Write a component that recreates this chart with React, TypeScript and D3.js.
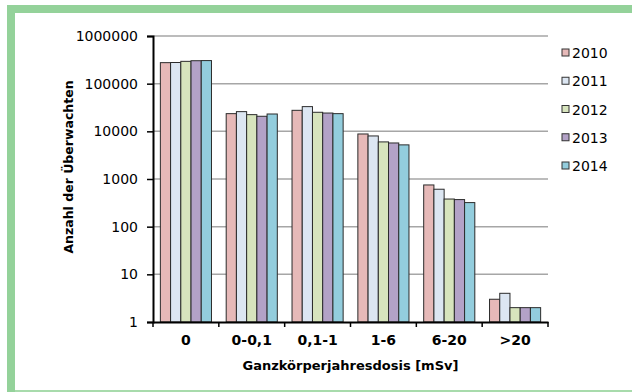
import React, { useEffect, useRef } from "react";
import * as d3 from "d3";

const categories = ["0", "0-0,1", "0,1-1", "1-6", "6-20", ">20"];
const years = ["2010", "2011", "2012", "2013", "2014"];
const colors = ["#E6B9B8", "#DCE6F2", "#D7E4BD", "#B3A2C7", "#93CDDD"];

const values2010 = [276000, 23500, 27600, 8800, 750, 3];
const values2011 = [278000, 25900, 33000, 8000, 610, 4];
const values2012 = [294000, 22400, 25100, 6000, 380, 2];
const values2013 = [303000, 20700, 24200, 5700, 370, 2];
const values2014 = [305000, 23100, 23500, 5200, 320, 2];

const yTicks = [1, 10, 100, 1000, 10000, 100000, 1000000];

const App = () => {
	const ref = useRef<SVGSVGElement>(null);

	useEffect(() => {
		const series = [values2010, values2011, values2012, values2013, values2014];
		const width = 632;
		const height = 392;
		const margin = { top: 36, right: 84, bottom: 70, left: 153 };
		const font = "'DejaVu Sans', sans-serif";

		const svg = d3.select(ref.current);
		svg.selectAll("*").remove();

		// green frame
		svg.append("rect").attr("x", 7).attr("y", 5).attr("width", 625).attr("height", 8).attr("fill", "#94D29A");
		svg.append("rect").attr("x", 7).attr("y", 5).attr("width", 8).attr("height", 387).attr("fill", "#94D29A");
		svg.append("rect").attr("x", 15).attr("y", 390).attr("width", 617).attr("height", 2).attr("fill", "#A8DBAC");

		const x0 = d3
			.scaleBand()
			.domain(categories)
			.range([margin.left, width - margin.right]);

		const x1 = d3.scaleBand().domain(years).range([0, x0.bandwidth()]).paddingOuter(0.72);

		const y = d3
			.scaleLog()
			.domain([1, 1000000])
			.range([height - margin.bottom, margin.top]);

		// gridlines
		svg
			.append("g")
			.selectAll("line")
			.data(yTicks.slice(1))
			.join("line")
			.attr("x1", margin.left)
			.attr("x2", width - margin.right)
			.attr("y1", (d) => y(d))
			.attr("y2", (d) => y(d))
			.attr("stroke", "#A6A6A6")
			.attr("stroke-width", 1.5);

		// bars
		const groups = svg
			.append("g")
			.selectAll("g")
			.data(categories)
			.join("g")
			.attr("transform", (d) => `translate(${x0(d)},0)`);

		groups
			.selectAll("rect")
			.data((d, i) => years.map((yr, j) => ({ yr, j, v: series[j][i] })))
			.join("rect")
			.attr("x", (d) => x1(d.yr))
			.attr("width", x1.bandwidth())
			.attr("y", (d) => y(d.v))
			.attr("height", (d) => y(1) - y(d.v))
			.attr("fill", (d) => colors[d.j])
			.attr("stroke", "#2b2b2b")
			.attr("stroke-width", 1);

		// y axis
		const yAxis = svg
			.append("g")
			.attr("transform", `translate(${margin.left},0)`)
			.call(
				d3
					.axisLeft(y)
					.tickValues(yTicks)
					.tickFormat((d) => String(d))
					.tickSize(6)
					.tickPadding(9)
			);
		yAxis.select(".domain").attr("stroke", "#000").attr("stroke-width", 2);
		yAxis.selectAll(".tick line").attr("stroke", "#000").attr("stroke-width", 1.5);
		yAxis.selectAll("text").attr("font-family", font).attr("font-size", 14).attr("fill", "#000");

		// x axis
		const xAxis = svg
			.append("g")
			.attr("transform", `translate(0,${height - margin.bottom})`)
			.call(d3.axisBottom(x0).tickSize(0).tickPadding(13));
		xAxis.select(".domain").attr("stroke", "#000").attr("stroke-width", 2);
		xAxis
			.selectAll("text")
			.attr("font-family", font)
			.attr("font-size", 14)
			.attr("font-weight", "bold")
			.attr("fill", "#000");

		// x category separators
		xAxis
			.selectAll(".sep")
			.data(categories.concat(["end"]))
			.join("line")
			.attr("class", "sep")
			.attr("x1", (d, i) => margin.left + i * x0.step())
			.attr("x2", (d, i) => margin.left + i * x0.step())
			.attr("y1", 0)
			.attr("y2", 5)
			.attr("stroke", "#000")
			.attr("stroke-width", 1.5);

		// axis titles
		svg
			.append("text")
			.attr("x", (margin.left + width - margin.right) / 2)
			.attr("y", 370)
			.attr("text-anchor", "middle")
			.attr("font-family", font)
			.attr("font-size", 13)
			.attr("font-weight", "bold")
			.text("Ganzkörperjahresdosis [mSv]");

		svg
			.append("text")
			.attr("transform", `translate(73,167) rotate(-90)`)
			.attr("text-anchor", "middle")
			.attr("font-family", font)
			.attr("font-size", 12.5)
			.attr("font-weight", "bold")
			.text("Anzahl der Überwachten");

		// legend
		const legend = svg
			.append("g")
			.selectAll("g")
			.data(years)
			.join("g")
			.attr("transform", (d, i) => `translate(562,${53 + i * 28.25})`);

		legend
			.append("rect")
			.attr("x", 0)
			.attr("y", -4)
			.attr("width", 7)
			.attr("height", 7)
			.attr("fill", (d, i) => colors[i])
			.attr("stroke", "#333")
			.attr("stroke-width", 1);

		legend
			.append("text")
			.attr("x", 10)
			.attr("y", 5)
			.attr("font-family", font)
			.attr("font-size", 14)
			.attr("fill", "#000")
			.text((d) => d);
	}, []);

	return (
		<svg
			ref={ref}
			width={632}
			height={392}
			style={{ position: "absolute", left: 0, top: 0, background: "#fff" }}
		/>
	);
};

export default App;
